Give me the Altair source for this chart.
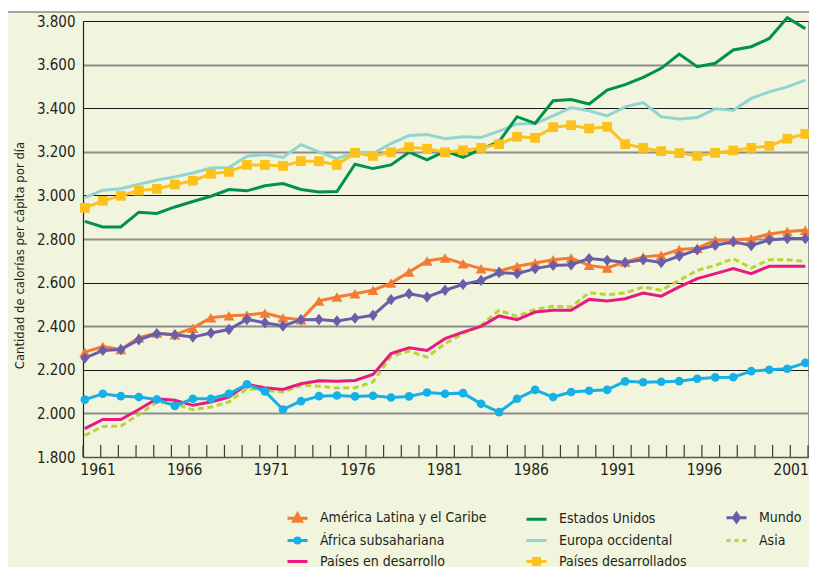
import altair as alt
import pandas as pd

# ---------------- data ----------------
years = list(range(1961, 2002))

america_latina = [2281, 2307, 2293, 2347, 2369, 2361, 2391, 2439, 2448, 2451, 2460,
                  2439, 2430, 2516, 2534, 2549, 2565, 2598, 2649, 2699, 2713, 2687,
                  2664, 2653, 2675, 2690, 2705, 2713, 2679, 2667, 2695, 2718, 2725,
                  2752, 2758, 2794, 2795, 2801, 2823, 2834, 2840]
estados_unidos = [2881, 2855, 2855, 2923, 2917, 2947, 2972, 2996, 3027, 3021, 3044,
                  3054, 3027, 3016, 3018, 3143, 3123, 3140, 3198, 3163, 3203, 3174,
                  3212, 3247, 3361, 3330, 3434, 3440, 3419, 3483, 3508, 3541, 3583,
                  3648, 3590, 3606, 3667, 3682, 3720, 3815, 3765]
mundo = [2254, 2289, 2293, 2338, 2366, 2361, 2350, 2369, 2385, 2431, 2416,
         2401, 2430, 2431, 2424, 2437, 2450, 2522, 2549, 2534, 2565, 2592,
         2610, 2646, 2641, 2664, 2679, 2682, 2710, 2702, 2692, 2705, 2692,
         2722, 2750, 2771, 2787, 2770, 2795, 2802, 2802]
africa = [2063, 2090, 2079, 2075, 2064, 2034, 2067, 2067, 2090, 2133, 2101,
          2018, 2056, 2079, 2082, 2078, 2081, 2073, 2078, 2096, 2090, 2093,
          2044, 2006, 2067, 2108, 2075, 2098, 2104, 2108, 2147, 2143, 2145,
          2148, 2159, 2165, 2166, 2194, 2200, 2205, 2232]
europa = [2990, 3024, 3031, 3051, 3070, 3085, 3103, 3126, 3128, 3180, 3188,
          3174, 3233, 3200, 3168, 3198, 3192, 3238, 3275, 3279, 3260, 3269,
          3266, 3295, 3327, 3330, 3365, 3403, 3388, 3365, 3406, 3426, 3361,
          3351, 3357, 3397, 3391, 3445, 3475, 3498, 3529]
asia = [1899, 1940, 1942, 1994, 2052, 2044, 2017, 2029, 2052, 2113, 2105,
        2098, 2128, 2125, 2116, 2118, 2144, 2261, 2286, 2258, 2320, 2366,
        2404, 2473, 2445, 2478, 2491, 2488, 2554, 2545, 2552, 2580, 2565,
        2610, 2656, 2679, 2710, 2667, 2705, 2705, 2698]
en_desarrollo = [1930, 1972, 1972, 2018, 2067, 2060, 2037, 2052, 2075, 2133, 2118,
                 2110, 2136, 2150, 2148, 2151, 2179, 2274, 2301, 2289, 2343, 2373,
                 2399, 2447, 2430, 2465, 2473, 2473, 2523, 2516, 2526, 2552, 2538,
                 2580, 2618, 2641, 2664, 2641, 2675, 2675, 2675]
desarrollados = [2943, 2975, 2998, 3022, 3030, 3050, 3067, 3099, 3108, 3140, 3140,
                 3135, 3157, 3157, 3140, 3195, 3181, 3198, 3221, 3214, 3198, 3207,
                 3218, 3235, 3269, 3264, 3313, 3322, 3307, 3315, 3235, 3218, 3203,
                 3194, 3181, 3195, 3206, 3218, 3227, 3260, 3282]

series_names = ["América Latina y el Caribe", "Estados Unidos", "Mundo",
                "África subsahariana", "Europa occidental", "Asia",
                "Países en desarrollo", "Países desarrollados"]
series_values = [america_latina, estados_unidos, mundo, africa, europa, asia,
                 en_desarrollo, desarrollados]
series_colors = ["#f47b33", "#00914c", "#6b5ea8", "#16b0e6", "#93d4d0", "#b8d437",
                 "#e8197f", "#fdc11c"]
series_markers = ["triangle-up", None, "M0,-1L0.8,0L0,1L-0.8,0Z", "circle", None, None,
                  None, "square"]
marker_sizes = [120, 0, 130, 75, 0, 0, 0, 95]
legend_paths = [
    "M-1,0L1,0M-0.4,0.32L0,-0.42L0.4,0.32Z",
    "M-1,0L1,0",
    "M-1,0L1,0M0,-0.42L0.3,0L0,0.42L-0.3,0Z",
    "M-1,0L1,0M-0.25,0A0.25,0.25,0,1,1,0.25,0A0.25,0.25,0,1,1,-0.25,0Z",
    "M-1,0L1,0",
    "M-1,0L-0.6,0M-0.2,0L0.2,0M0.6,0L1,0",
    "M-1,0L1,0",
    "M-1,0L1,0M-0.3,-0.3L0.3,-0.3L0.3,0.3L-0.3,0.3Z",
]
# legend entries, column by column (3 rows per column)
legend_order = ["América Latina y el Caribe", "África subsahariana", "Países en desarrollo",
                "Estados Unidos", "Europa occidental", "Países desarrollados",
                "Mundo", "Asia"]
draw_order = ["Europa occidental", "Estados Unidos", "Países desarrollados", "Asia",
              "Países en desarrollo", "África subsahariana",
              "América Latina y el Caribe", "Mundo"]

tick_years = list(range(1961, 2003))
label_years = list(range(1961, 2002, 5))
y_ticks = list(range(1800, 3801, 200))

# ---------------- layout ----------------
W, H = 725, 436
FONT = "Liberation Sans Narrow, DejaVu Sans Condensed, sans-serif"
TXT = "#231f20"

rows = []
for name, vals in zip(series_names, series_values):
    for yr, v in zip(years, vals):
        rows.append({"year": yr, "value": v, "series": name})
df = pd.DataFrame(rows)

y_axis = alt.Axis(
    values=y_ticks, grid=True, ticks=False, domain=True, domainColor="#222222",
    domainWidth=1.2,
    gridColor={"condition": {"test": "datum.value % 400 === 0", "value": "#8c8c8c"},
               "value": "#1a1a1a"},
    gridWidth={"condition": {"test": "datum.value % 400 === 0", "value": 2},
               "value": 1.1},
    labelExpr="replace(format(datum.value, ','), ',', '.')",
    labelFont=FONT, labelFontSize=15, labelColor=TXT, labelPadding=8,
    title="Cantidad de calorías per cápita por día", titleFont=FONT,
    titleFontSize=13, titleFontWeight="normal", titleColor=TXT,
    titleX=-64, titleY=234, titleBaseline="middle", titleAlign="center", titleAngle=270,
)
y_enc = alt.Y("value:Q", scale=alt.Scale(domain=[1800, 3800], nice=False, zero=False),
              axis=y_axis)
x_data = alt.X("year:Q", scale=alt.Scale(domain=[1960.9, 2001.15], nice=False, zero=False),
               axis=None)

layers = []

# decorations: white strip above the panel and grey top line of the panel
deco = pd.DataFrame({"k": [0]})
layers.append(alt.Chart(deco).mark_rect(color="white").encode(
    x=alt.value(-76), x2=alt.value(W + 1), y=alt.value(-14), y2=alt.value(-9.5)))
layers.append(alt.Chart(deco).mark_rule(color="#8a8a8a", strokeWidth=1.5).encode(
    x=alt.value(-76), x2=alt.value(W + 1), y=alt.value(-9)))

# year ticks pointing up into the plot
layers.append(alt.Chart(pd.DataFrame({"t": tick_years})).mark_rule(
    color="#3c3c3c", strokeWidth=1.2).encode(
    x=alt.X("t:Q", scale=alt.Scale(domain=[1961, 2002], nice=False, zero=False), axis=None),
    y=alt.value(H), y2=alt.value(H - 12)))

# x labels axis
layers.append(alt.Chart(pd.DataFrame({"lab": label_years})).mark_point(opacity=0).encode(
    x=alt.X("lab:Q", scale=alt.Scale(domain=[1960.16, 2002.01], nice=False, zero=False),
            axis=alt.Axis(values=label_years, format="d", ticks=False, grid=False,
                          domain=True, domainColor="#555555", domainWidth=1.5,
                          labelFont=FONT, labelFontSize=15.5, labelColor=TXT,
                          labelPadding=5, labelFlush=False, labelOverlap=False,
                          title=None)),
    y=alt.value(H)))

# data series
for name in draw_order:
    k = series_names.index(name)
    base = alt.Chart(df).transform_filter(alt.datum.series == name)
    line_kw = dict(color=series_colors[k], strokeWidth=3)
    if name == "Asia":
        line_kw["strokeDash"] = [6, 3.5]
    layers.append(base.mark_line(**line_kw).encode(x=x_data, y=y_enc))
    if series_markers[k]:
        layers.append(base.mark_point(filled=True, shape=series_markers[k],
                                      size=marker_sizes[k], color=series_colors[k],
                                      opacity=1, strokeWidth=0).encode(x=x_data, y=y_enc))

# legend layer (invisible marks, visible legend)
leg_colors = [series_colors[series_names.index(n)] for n in legend_order]
leg_paths = [legend_paths[series_names.index(n)] for n in legend_order]
leg = alt.Legend(orient="none", legendX=203, legendY=485, columns=3, columnPadding=33,
                 rowPadding=1, symbolSize=400, symbolStrokeWidth=3, symbolOpacity=1,
                 labelOffset=11, labelFont=FONT, labelFontSize=14, labelColor=TXT,
                 labelLimit=400, title=None, padding=0)
legend_df = pd.DataFrame({"series": legend_order})
layers.append(alt.Chart(legend_df).mark_point(filled=True, opacity=0).encode(
    fill=alt.Fill("series:N", scale=alt.Scale(domain=legend_order, range=leg_colors),
                  legend=leg),
    stroke=alt.Stroke("series:N", scale=alt.Scale(domain=legend_order, range=leg_colors),
                      legend=leg),
    shape=alt.Shape("series:N", scale=alt.Scale(domain=legend_order, range=leg_paths),
                    legend=leg),
))

chart = alt.layer(*layers).resolve_scale(x="independent").properties(
    width=W, height=H,
    autosize=alt.AutoSizeParams(type="none"),
    padding={"left": 75, "top": 13, "right": 1, "bottom": 110},
    background="#f2f5dd",
).configure_view(fill="white", stroke="#9a9a9a", strokeWidth=1)

chart.save("out.html", embed_options={"renderer": "svg", "actions": False})
